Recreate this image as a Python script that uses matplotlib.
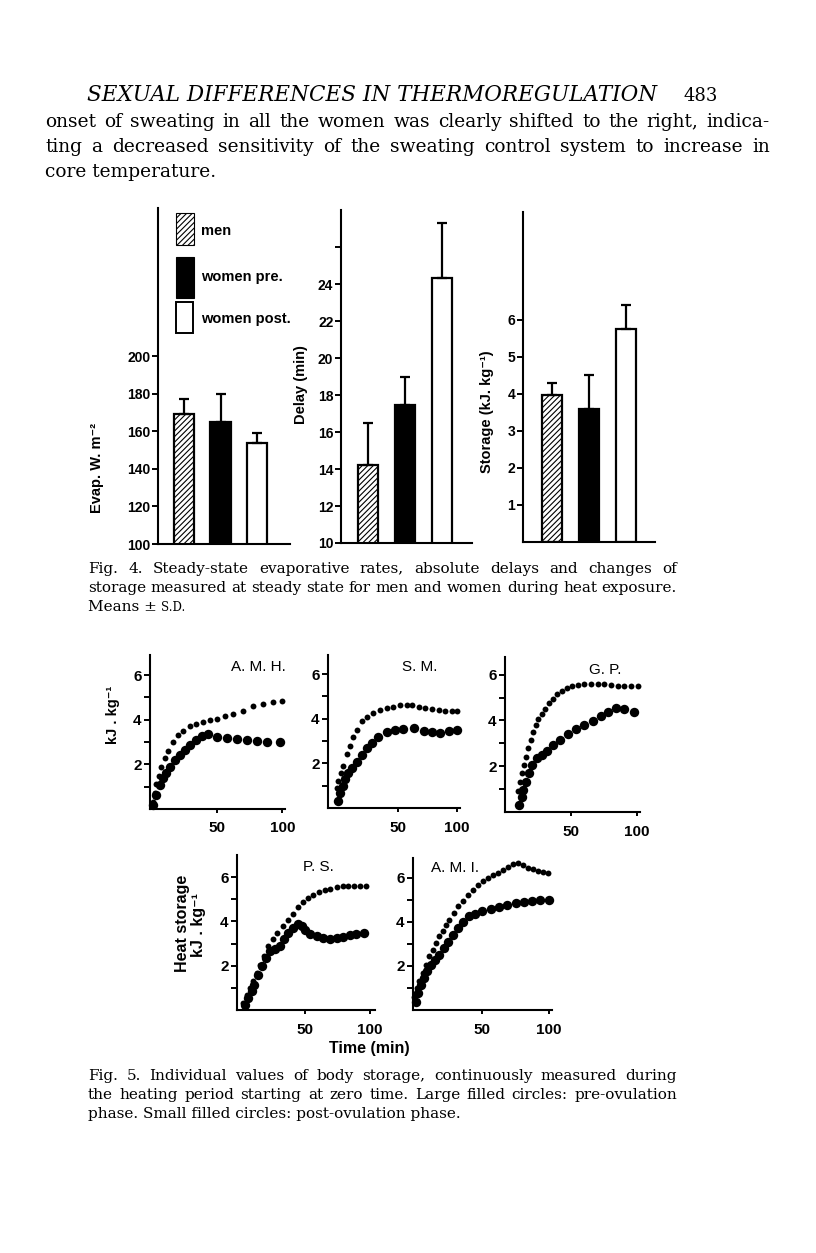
import numpy as np
import matplotlib.pyplot as plt
from matplotlib.patches import Rectangle

W, H = 816, 1253

# ---- Fig. 4: steady-state values (means and top of +S.D. bar) ----
groups = ['men', 'women pre.', 'women post.']
evap_mean = [169, 165, 154]
evap_top = [177, 180, 159]
delay_mean = [14.2, 17.45, 24.35]
delay_top = [16.5, 19.0, 27.3]
storage_mean = [3.97, 3.6, 5.75]
storage_top = [4.3, 4.5, 6.4]

# ---- Fig. 5: heat storage curves (min, kJ/kg) ----
# small dots = post-ovulation, large dots = pre-ovulation
amh_t_post = [0.8, 2.1, 3.3, 5.4, 7.2, 9.7, 12.3, 16.2, 20, 23.8, 29, 34.1, 39.2, 44.4, 49.5,
              55.9, 62.3, 70, 77.7, 85.4, 93.1, 99.5]
amh_v_post = [0.3, 0.7, 1.1, 1.5, 1.9, 2.3, 2.6, 3.0, 3.3, 3.5, 3.7, 3.8, 3.9, 4.0, 4.05,
              4.15, 4.25, 4.4, 4.6, 4.7, 4.8, 4.85]
amh_t_pre = [0.8, 3.3, 5.9, 8.5, 11, 14.1, 17.4, 21.3, 25.1, 29.5, 34.1, 38.7, 43.1, 49.5,
             57.2, 64.9, 72.6, 80.3, 87.9, 98.2]
amh_v_pre = [0.18, 0.63, 1.07, 1.37, 1.6, 1.9, 2.19, 2.42, 2.64, 2.87, 3.09, 3.28, 3.34, 3.24,
             3.16, 3.13, 3.09, 3.04, 3.01, 2.99]

sm_t_post = [-1.1, 0.3, 2.2, 4.5, 7.3, 10.1, 12.9, 15.7, 19.9, 24.2, 29.8, 35.4, 41, 46.6,
             52.2, 57.9, 62.1, 67.7, 73.3, 78.9, 84.6, 90.2, 95.8, 100]
sm_v_post = [0.9, 1.2, 1.55, 1.9, 2.4, 2.8, 3.2, 3.5, 3.9, 4.1, 4.25, 4.4, 4.5, 4.55,
             4.6, 4.6, 4.6, 4.55, 4.5, 4.45, 4.4, 4.37, 4.36, 4.33]
sm_t_pre = [-0.3, 1.7, 3.9, 5.9, 8.7, 12.1, 15.7, 19.9, 24.2, 28.4, 34, 41, 48, 55, 63.5,
            71.9, 78.9, 86, 93, 100]
sm_v_pre = [0.3, 0.66, 1.0, 1.3, 1.55, 1.8, 2.08, 2.38, 2.68, 2.9, 3.2, 3.4, 3.5, 3.53, 3.6,
            3.45, 3.4, 3.36, 3.45, 3.5]

gp_t_post = [9.4, 10.7, 11.9, 13.7, 15.2, 17, 18.8, 20.8, 22.8, 24.6, 27.2, 29.7, 32.7, 36,
             39.3, 42.9, 46.7, 50.5, 55, 60, 65, 70, 75, 80.5, 85.5, 90.6, 95.7, 100.8]
gp_v_post = [0.9, 1.3, 1.7, 2.05, 2.4, 2.8, 3.15, 3.5, 3.8, 4.05, 4.3, 4.5, 4.75, 4.95,
             5.17, 5.3, 5.4, 5.5, 5.55, 5.6, 5.6, 5.58, 5.57, 5.55, 5.52, 5.5, 5.5, 5.5]
gp_t_pre = [10.2, 11.9, 13.2, 15.2, 17.5, 20, 23.4, 27.2, 31, 36, 41, 47.5, 53.8, 60, 66.5,
            72.8, 78, 84, 90.6, 97.7]
gp_v_pre = [0.3, 0.67, 0.96, 1.32, 1.7, 2.05, 2.34, 2.49, 2.66, 2.92, 3.14, 3.39, 3.62, 3.8,
            3.97, 4.2, 4.37, 4.55, 4.49, 4.37]

ps_t_post = [2.6, 5.6, 7.7, 10.3, 12.8, 15.4, 18.5, 21.8, 25.1, 28.7, 32.8, 37.2, 41.0, 44.9,
             48.7, 52.6, 56.4, 61.0, 65.4, 69.7, 74.4, 79.0, 83.3, 87.9, 92.3, 97.4]
ps_v_post = [0.3, 0.68, 1.0, 1.3, 1.67, 2.05, 2.43, 2.9, 3.2, 3.5, 3.8, 4.06, 4.33, 4.63,
             4.86, 5.06, 5.21, 5.32, 5.4, 5.47, 5.55, 5.58, 5.62, 5.62, 5.62, 5.59]
ps_t_pre = [3.8, 6.4, 9.0, 11.0, 14.1, 16.7, 20.0, 23.1, 26.9, 30.8, 33.8, 37.2, 41.0, 44.9,
            47.4, 50.0, 53.8, 59.0, 64.1, 69.2, 74.4, 79.5, 84.6, 89.7, 95.4]
ps_v_pre = [0.23, 0.53, 0.84, 1.14, 1.6, 1.98, 2.36, 2.66, 2.74, 2.89, 3.19, 3.5, 3.72, 3.88,
            3.8, 3.6, 3.45, 3.34, 3.27, 3.22, 3.24, 3.3, 3.39, 3.45, 3.5]

ami_t_post = [-1.25, 0.75, 2.5, 5, 7.5, 10, 12.5, 15, 17.5, 20, 22.5, 25, 28.25, 31.75, 35.5,
              39.25, 43, 46.75, 50.5, 54.25, 58, 61.75, 65.5, 69.25, 73, 76.75, 80.5, 84.25,
              88, 91.75, 95.5, 99.25]
ami_v_post = [0.6, 1.0, 1.3, 1.67, 2.05, 2.43, 2.74, 3.04, 3.34, 3.6, 3.88, 4.1, 4.4, 4.71,
              4.97, 5.2, 5.47, 5.67, 5.85, 6.0, 6.12, 6.2, 6.34, 6.49, 6.64, 6.69, 6.57, 6.45,
              6.4, 6.3, 6.28, 6.23]
ami_t_pre = [0, 1.75, 3.75, 5.75, 8.25, 11.25, 14.25, 17.5, 20.75, 23.75, 27.5, 31.75, 35.75,
             40, 44.25, 50, 56.25, 62.5, 68.75, 75, 81.25, 87.5, 93.75, 100]
ami_v_pre = [0.38, 0.76, 1.14, 1.44, 1.75, 2.05, 2.28, 2.5, 2.8, 3.1, 3.4, 3.7, 4.0, 4.25,
             4.36, 4.48, 4.59, 4.66, 4.76, 4.84, 4.91, 4.97, 5.0, 5.0]

SANS = ['Liberation Sans', 'DejaVu Sans']
SERIF = ['DejaVu Serif']
plt.rcParams['font.family'] = SANS

fig = plt.figure(figsize=(W / 100, H / 100), dpi=100)
fig.patch.set_facecolor('white')


def box(x0, y0, x1, y1):
    # pixel box (top-left origin) -> figure fraction rect
    return [x0 / W, 1 - y1 / H, (x1 - x0) / W, (y1 - y0) / H]


def ftext(x, y, s, **kw):
    return fig.text(x / W, 1 - y / H, s, **kw)


def width_of(t):
    return t.get_window_extent(fig.canvas.get_renderer()).width


def justify(line, x0, x1, y, **kw):
    words = line.split()
    arts = [ftext(x0, y, w, va='baseline', **kw) for w in words]
    widths = [width_of(a) for a in arts]
    gap = (x1 - x0 - sum(widths)) / (len(words) - 1)
    x = x0
    for a, w in zip(arts, widths):
        a.set_x(x / W)
        x += w + gap


def fit_text(s, x0, x1, y, size, **kw):
    t = ftext(x0, y, s, va='baseline', fontsize=size, **kw)
    t.set_fontsize(size * (x1 - x0) / width_of(t))
    return t


# --- page text ---
fit_text('SEXUAL DIFFERENCES IN THERMOREGULATION', 87, 655, 101, 13,
         family=SERIF, style='italic')
ftext(683, 101, '483', va='baseline', fontsize=13, family=SERIF)

body = dict(family=SERIF, fontsize=13.4)
justify('onset of sweating in all the women was clearly shifted to the right, indica-',
        45, 770, 127, **body)
justify('ting a decreased sensitivity of the sweating control system to increase in',
        45, 770, 152, **body)
ftext(45, 177, 'core temperature.', va='baseline', **body)

cap = dict(family=SERIF, fontsize=11)
justify('Fig. 4. Steady-state evaporative rates, absolute delays and changes of',
        88, 677, 573, **cap)
justify('storage measured at steady state for men and women during heat exposure.',
        88, 677, 592, **cap)
t = ftext(88, 611, 'Means \u00b1', va='baseline', **cap)
ftext(88 + width_of(t) + 4, 611, 'S.D.', va='baseline', family=SERIF, fontsize=8.5)

justify('Fig. 5. Individual values of body storage, continuously measured during',
        88, 677, 1080, **cap)
justify('the heating period starting at zero time. Large filled circles: pre-ovulation',
        88, 677, 1099, **cap)
ftext(88, 1118, 'phase. Small filled circles: post-ovulation phase.', va='baseline', **cap)

# --- Fig. 4 bar panels ---
face = ['white', 'black', 'white']
hatch = ['//////', None, None]
plt.rcParams['hatch.linewidth'] = 0.8


def bar_panel(rect, means, tops, ylim, yticks, ylabels, xlim, width, ylabel, lab_xy):
    ax = fig.add_axes(box(*rect))
    x = np.arange(len(groups))
    for i in range(len(groups)):
        ax.bar(x[i], means[i], width=width, color=face[i], edgecolor='black',
               linewidth=1.6, hatch=hatch[i], zorder=2)
    err = np.array(tops) - np.array(means)
    ax.errorbar(x, means, yerr=[np.zeros(len(err)), err], fmt='none', ecolor='black',
                elinewidth=1.6, capsize=3.5, capthick=1.6, zorder=3)
    ax.set_xlim(*xlim)
    ax.set_ylim(*ylim)
    for s in ['top', 'right']:
        ax.spines[s].set_visible(False)
    for s in ['left', 'bottom']:
        ax.spines[s].set_linewidth(1.5)
    ax.set_yticks(yticks, ylabels, fontsize=10, fontweight='bold')
    ax.tick_params(axis='y', length=4, width=1.4, pad=1.5)
    ax.tick_params(axis='x', length=0, labelbottom=False)
    ftext(lab_xy[0], lab_xy[1], ylabel, rotation=90, ha='center', va='center',
          fontsize=10.5, fontweight='bold')
    return ax


bar_panel((158, 208, 290, 544), evap_mean, evap_top, (100, 279),
          [100, 120, 140, 160, 180, 200], ['100', '120', '140', '160', '180', '200'],
          (-0.71, 2.9), 0.55, 'Evap. W. m\u207b\u00b2', (97, 468))
bar_panel((341, 210, 472, 543), delay_mean, delay_top, (10, 28),
          [10, 12, 14, 16, 18, 20, 22, 24, 26],
          ['10', '12', '14', '16', '18', '20', '22', '24', ''],
          (-0.73, 2.81), 0.56, 'Delay (min)', (301, 385))
bar_panel((523, 212, 655, 542), storage_mean, storage_top, (0, 8.9),
          [1, 2, 3, 4, 5, 6], ['1', '2', '3', '4', '5', '6'],
          (-0.78, 2.78), 0.52, 'Storage (kJ. kg\u207b\u00b9)', (487, 412))

# legend
leg = [((176, 213, 194, 245), 'white', '//////', 'men', 231),
       ((176, 257, 194, 298), 'black', None, 'women pre.', 277),
       ((176, 302, 193, 333), 'white', None, 'women post.', 319)]
for (x0, y0, x1, y1), fc, hh, lab, ty in leg:
    r = Rectangle((x0 / W, 1 - y1 / H), (x1 - x0) / W, (y1 - y0) / H,
                  transform=fig.transFigure, facecolor=fc, edgecolor='black',
                  linewidth=1.4 if fc == 'white' and hh is None else 0.8, hatch=hh)
    fig.add_artist(r)
    ftext(201, ty, lab, va='center', fontsize=10.5, fontweight='bold')


# --- Fig. 5 storage panels ---
def storage_panel(rect, xlim, ylim, tp, vp, tl, vl, name, name_xy):
    ax = fig.add_axes(box(*rect))
    ax.scatter(tp, vp, s=18, c='black', linewidths=0, clip_on=False, zorder=3)
    ax.scatter(tl, vl, s=46, c='black', linewidths=0, clip_on=False, zorder=3)
    ax.set_xlim(*xlim)
    ax.set_ylim(*ylim)
    for s in ['top', 'right']:
        ax.spines[s].set_visible(False)
    for s in ['left', 'bottom']:
        ax.spines[s].set_linewidth(1.5)
    ax.set_yticks([1, 2, 3, 4, 5, 6], ['', '2', '', '4', '', '6'],
                  fontsize=11, fontweight='bold')
    ax.set_xticks([50, 100], ['50', '100'], fontsize=11, fontweight='bold')
    ax.tick_params(axis='y', length=4, width=1.4, pad=2)
    ax.tick_params(axis='x', length=3, width=1.4, pad=6)
    ftext(name_xy[0], name_xy[1], name, ha='center', va='center', fontsize=11)
    return ax


storage_panel((150, 655, 285, 809), (-1.5, 102), (0, 6.9),
              amh_t_post, amh_v_post, amh_t_pre, amh_v_pre, 'A. M. H.', (258, 667))
storage_panel((328, 655, 460, 808), (-8.4, 102.5), (0, 6.86),
              sm_t_post, sm_v_post, sm_t_pre, sm_v_pre, 'S. M.', (420, 667))
storage_panel((505, 657, 640, 812), (-0.8, 102.5), (0, 6.77),
              gp_t_post, gp_v_post, gp_t_pre, gp_v_pre, 'G. P.', (605, 670))
storage_panel((237, 855, 375, 1010), (-2.3, 104), (0, 7.0),
              ps_t_post, ps_v_post, ps_t_pre, ps_v_pre, 'P. S.', (318, 867))
storage_panel((413, 858, 552, 1010), (-2.3, 102.5), (0, 6.9),
              ami_t_post, ami_v_post, ami_t_pre, ami_v_pre, 'A. M. I.', (455, 868))

ftext(113, 715, 'kJ . kg\u207b\u00b9', rotation=90, ha='center', va='center',
      fontsize=10.5, fontweight='bold')
ftext(182, 923, 'Heat storage', rotation=90, ha='center', va='center',
      fontsize=11.5, fontweight='bold')
ftext(198, 925, 'kJ . kg\u207b\u00b9', rotation=90, ha='center', va='center',
      fontsize=11.5, fontweight='bold')
ftext(369, 1049, 'Time (min)', ha='center', va='center', fontsize=11.5, fontweight='bold')

fig.savefig('out.png', dpi=100, facecolor='white')
